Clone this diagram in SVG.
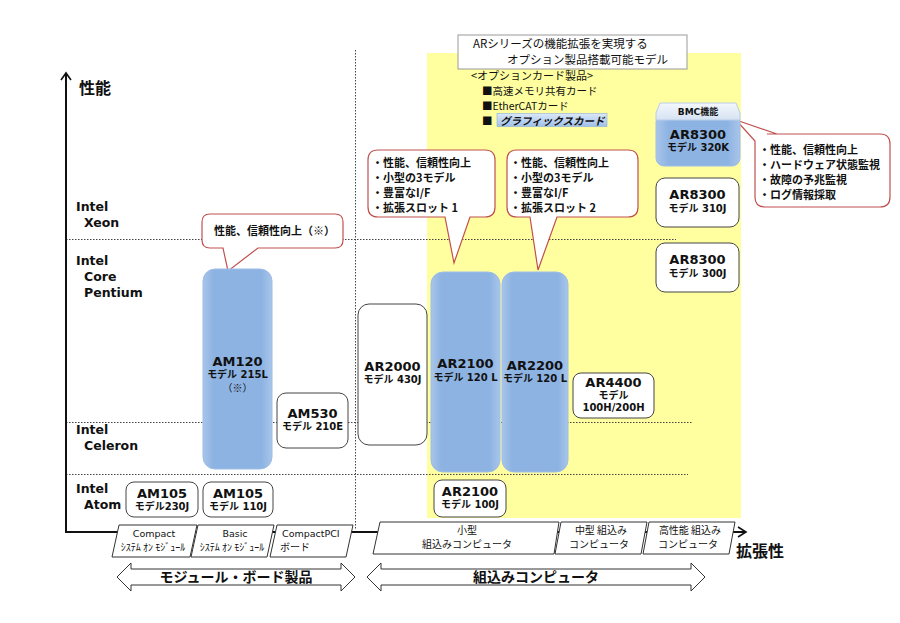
<svg xmlns="http://www.w3.org/2000/svg" width="900" height="623" viewBox="0 0 900 623">
<defs>
<linearGradient id="blue" x1="0" y1="0" x2="1" y2="0">
<stop offset="0" stop-color="#a9c5ea"/>
<stop offset="0.15" stop-color="#8db3e2"/>
<stop offset="0.85" stop-color="#8db3e2"/>
<stop offset="1" stop-color="#a9c5ea"/>
</linearGradient>
<linearGradient id="tab" x1="0" y1="0" x2="0" y2="1">
<stop offset="0" stop-color="#f4f7fc"/>
<stop offset="1" stop-color="#d6e2f2"/>
</linearGradient>
<linearGradient id="hl" x1="0" y1="0" x2="0" y2="1">
<stop offset="0" stop-color="#dbe8f8"/>
<stop offset="1" stop-color="#9ec0ea"/>
</linearGradient>
</defs>
<style>
text{font-family:"Noto Sans CJK JP","DejaVu Sans",sans-serif;fill:#111}
.lat{font-family:"DejaVu Sans","Noto Sans CJK JP",sans-serif;font-weight:bold}
.nm{font-size:13px;text-anchor:middle}
.sub{font-size:10px;text-anchor:middle}
.cpu{font-family:"DejaVu Sans","Noto Sans CJK JP",sans-serif;font-weight:bold;font-size:12.5px}
.wn{fill:#fff;stroke:#444;stroke-width:1}
.bn{fill:url(#blue);stroke:#9ebde6;stroke-width:1}
.co{fill:#fff;stroke:#c0504d;stroke-width:1.2}
.ct{font-size:11px;font-weight:bold}
.dot{stroke:#444;stroke-width:1;stroke-dasharray:1.5 1.5;fill:none}
.par{fill:#fff;stroke:#333;stroke-width:1}
.pt{font-size:10px;text-anchor:middle}
.pl{font-family:"DejaVu Sans",sans-serif;font-size:9.5px}
.dbl{fill:#fff;stroke:#333;stroke-width:1}
.op{font-size:10.5px}
</style>
<rect width="900" height="623" fill="#fff"/>
<!-- yellow region -->
<rect x="427" y="53" width="314" height="465" fill="#ffffa0"/>
<g id="title">
<rect x="458" y="35" width="229" height="34" fill="#fff" stroke="#999" stroke-width="1"/>
<text x="473" y="48" font-size="11.5">ARシリーズの機能拡張を実現する</text>
<text x="507" y="64" font-size="11.5">オプション製品搭載可能モデル</text>
</g>
<g id="options">
<text x="471" y="79.5" font-size="11">&lt;オプションカード製品&gt;</text>
<text class="op" x="482" y="95">■高速メモリ共有カード</text>
<text class="op" x="482" y="110">■EtherCATカード</text>
<text class="op" x="482" y="124.5">■</text>
<rect x="497" y="113.5" width="110" height="13" fill="url(#hl)" stroke="#8eaedb" stroke-width="0.6"/>
<text class="op" x="500" y="124.5" font-style="italic" font-weight="bold">グラフィックスカード</text>
</g>
<!-- grid lines -->
<g id="grid">
<line class="dot" x1="66" y1="239.5" x2="676" y2="239.5"/>
<line class="dot" x1="66" y1="422.5" x2="692" y2="422.5"/>
<line class="dot" x1="66" y1="474.5" x2="688" y2="474.5"/>
<line class="dot" x1="355.5" y1="50" x2="355.5" y2="530"/>
</g>
<!-- axes -->
<g id="axes" stroke="#111" fill="none">
<line x1="66" y1="74" x2="66" y2="532" stroke-width="2"/>
<path d="M61,80 L66,73 L71,80" stroke-width="1.6"/>
<line x1="65" y1="532" x2="746" y2="532" stroke-width="2"/>
<path d="M738,527 L746,532 L738,537" stroke-width="1.6"/>
</g>
<text x="79" y="94" font-size="16" font-weight="bold">性能</text>
<text x="736" y="557" font-size="16" font-weight="bold">拡張性</text>
<g id="cpu-labels">
<text class="cpu" x="76" y="211">Intel</text>
<text class="cpu" x="84" y="227">Xeon</text>
<text class="cpu" x="76" y="265">Intel</text>
<text class="cpu" x="84" y="281">Core</text>
<text class="cpu" x="84" y="297">Pentium</text>
<text class="cpu" x="76" y="434">Intel</text>
<text class="cpu" x="84" y="450">Celeron</text>
<text class="cpu" x="76" y="493">Intel</text>
<text class="cpu" x="84" y="509">Atom</text>
</g>
<!-- connectors (callout pointers drawn with callouts) -->
<g id="connectors">
<path class="co" d="M210,214 H335 Q343,214 343,222 V240 Q343,248 335,248 H258 L228,271 L223,248 H210 Q202,248 202,240 V222 Q202,214 210,214 Z"/>
<path class="co" d="M378,150 H485 Q495,150 495,160 V207 Q495,217 485,217 H470 L454,263 L445,217 H378 Q368,217 368,207 V160 Q368,150 378,150 Z"/>
<path class="co" d="M517,150 H628 Q638,150 638,160 V207 Q638,217 628,217 H557 L538,270 L530,217 H517 Q507,217 507,207 V160 Q507,150 517,150 Z"/>
<path class="co" d="M767,134 H880 Q890,134 890,144 V197 Q890,207 880,207 H765 Q755,207 755,197 V141 L736,120 L777,134 Z"/>
</g>
<g id="callout1">
<text class="ct" x="214" y="235">性能、信頼性向上（※）</text>
</g>
<g id="callout2">
<text class="ct" x="372" y="167">・性能、信頼性向上</text>
<text class="ct" x="372" y="182">・小型の3モデル</text>
<text class="ct" x="372" y="197">・豊富なI/F</text>
<text class="ct" x="372" y="212">・拡張スロット 1</text>
</g>
<g id="callout3">
<text class="ct" x="510" y="167">・性能、信頼性向上</text>
<text class="ct" x="510" y="182">・小型の3モデル</text>
<text class="ct" x="510" y="197">・豊富なI/F</text>
<text class="ct" x="510" y="212">・拡張スロット 2</text>
</g>
<g id="callout4">
<text class="ct" x="759" y="154">・性能、信頼性向上</text>
<text class="ct" x="759" y="169">・ハードウェア状態監視</text>
<text class="ct" x="759" y="184">・故障の予兆監視</text>
<text class="ct" x="759" y="199">・ログ情報採取</text>
</g>
<!-- nodes -->
<g id="AM120">
<rect class="bn" x="203" y="269" width="69" height="200" rx="12"/>
<text class="lat nm" x="237.5" y="366">AM120</text>
<text class="lat sub" x="237.5" y="378">モデル 215L</text>
<text class="sub" x="237.5" y="392" font-size="12">（※）</text>
</g>
<g id="AM530">
<rect class="wn" x="277" y="393" width="71" height="55" rx="9"/>
<text class="lat nm" x="312.5" y="418">AM530</text>
<text class="lat sub" x="312.5" y="430">モデル 210E</text>
</g>
<g id="AR2000">
<rect class="wn" x="358" y="304" width="69" height="141" rx="11"/>
<text class="lat nm" x="392.5" y="371">AR2000</text>
<text class="lat sub" x="392.5" y="383">モデル 430J</text>
</g>
<g id="AR2100-120L">
<rect class="bn" x="431" y="272" width="69" height="200" rx="12"/>
<text class="lat nm" x="465.5" y="368">AR2100</text>
<text class="lat sub" x="465.5" y="381">モデル 120 L</text>
</g>
<g id="AR2200">
<rect class="bn" x="502" y="272" width="66" height="200" rx="12"/>
<text class="lat nm" x="535" y="370">AR2200</text>
<text class="lat sub" x="535" y="382">モデル 120 L</text>
</g>
<g id="AR4400">
<rect class="wn" x="573" y="373" width="81" height="45" rx="8"/>
<text class="lat nm" x="613.5" y="387">AR4400</text>
<text class="lat sub" x="613.5" y="399">モデル</text>
<text class="lat sub" x="613.5" y="411">100H/200H</text>
</g>
<g id="AR8300-320K">
<rect class="bn" x="656" y="114" width="84" height="52" rx="8"/>
<path d="M660,103 H736 L740,113 V120 H656 V113 Z" fill="url(#tab)" stroke="#b9cde8" stroke-width="1"/>
<text class="lat" x="698" y="115" font-size="9" text-anchor="middle">BMC機能</text>
<text class="lat nm" x="698" y="139">AR8300</text>
<text class="lat sub" x="698" y="151">モデル 320K</text>
</g>
<g id="AR8300-310J">
<rect class="wn" x="656" y="178" width="83" height="49" rx="9"/>
<text class="lat nm" x="697.5" y="199">AR8300</text>
<text class="lat sub" x="697.5" y="212">モデル 310J</text>
</g>
<g id="AR8300-300J">
<rect class="wn" x="656" y="243" width="83" height="49" rx="9"/>
<text class="lat nm" x="697.5" y="264">AR8300</text>
<text class="lat sub" x="697.5" y="277">モデル 300J</text>
</g>
<g id="AR2100-100J">
<rect class="wn" x="434" y="480" width="72" height="37" rx="8"/>
<text class="lat nm" x="470" y="496">AR2100</text>
<text class="lat sub" x="470" y="508">モデル 100J</text>
</g>
<g id="AM105-230J">
<rect class="wn" x="126" y="482" width="72" height="35" rx="8"/>
<text class="lat nm" x="162" y="498">AM105</text>
<text class="lat sub" x="162" y="510">モデル230J</text>
</g>
<g id="AM105-110J">
<rect class="wn" x="203" y="482" width="70" height="35" rx="8"/>
<text class="lat nm" x="238" y="498">AM105</text>
<text class="lat sub" x="238" y="510">モデル 110J</text>
</g>
<!-- category parallelograms -->
<g id="cat-compact">
<path class="par" d="M119,525 H197 L190,557 H112 Z"/>
<text class="pl" x="154" y="537" text-anchor="middle">Compact</text>
<text class="pt" x="153" y="551" font-size="9">ｼｽﾃﾑ ｵﾝ ﾓｼﾞｭｰﾙ</text>
</g>
<g id="cat-basic">
<path class="par" d="M198,525 H274 L267,557 H191 Z"/>
<text class="pl" x="235" y="537" text-anchor="middle">Basic</text>
<text class="pt" x="232" y="551" font-size="9">ｼｽﾃﾑ ｵﾝ ﾓｼﾞｭｰﾙ</text>
</g>
<g id="cat-cpci">
<path class="par" d="M277,525 H353 L346,557 H270 Z"/>
<text class="pl" x="282" y="537">CompactPCI</text>
<text x="280" y="551" font-size="10">ボード</text>
</g>
<g id="cat-small">
<path class="par" d="M380,522 H559 L554,554 H373 Z"/>
<text class="pt" x="467" y="534">小型</text>
<text class="pt" x="467" y="548">組込みコンピュータ</text>
</g>
<g id="cat-mid">
<path class="par" d="M561,522 H647 L641,554 H555 Z"/>
<text class="pt" x="601" y="534">中型 組込み</text>
<text class="pt" x="599" y="548">コンピュータ</text>
</g>
<g id="cat-high">
<path class="par" d="M649,522 H735 L729,554 H643 Z"/>
<text class="pt" x="690" y="534">高性能 組込み</text>
<text class="pt" x="688" y="548">コンピュータ</text>
</g>
<!-- double arrows -->
<g id="range-module">
<path class="dbl" d="M117,577 L131,563 V569 H341 V563 L355,577 L341,591 V585 H131 V591 Z"/>
<text x="236" y="582" font-size="14" font-weight="bold" text-anchor="middle">モジュール・ボード製品</text>
</g>
<g id="range-embedded">
<path class="dbl" d="M367,577 L381,563 V569 H691 V563 L705,577 L691,591 V585 H381 V591 Z"/>
<text x="536" y="582" font-size="14" font-weight="bold" text-anchor="middle">組込みコンピュータ</text>
</g>
</svg>
